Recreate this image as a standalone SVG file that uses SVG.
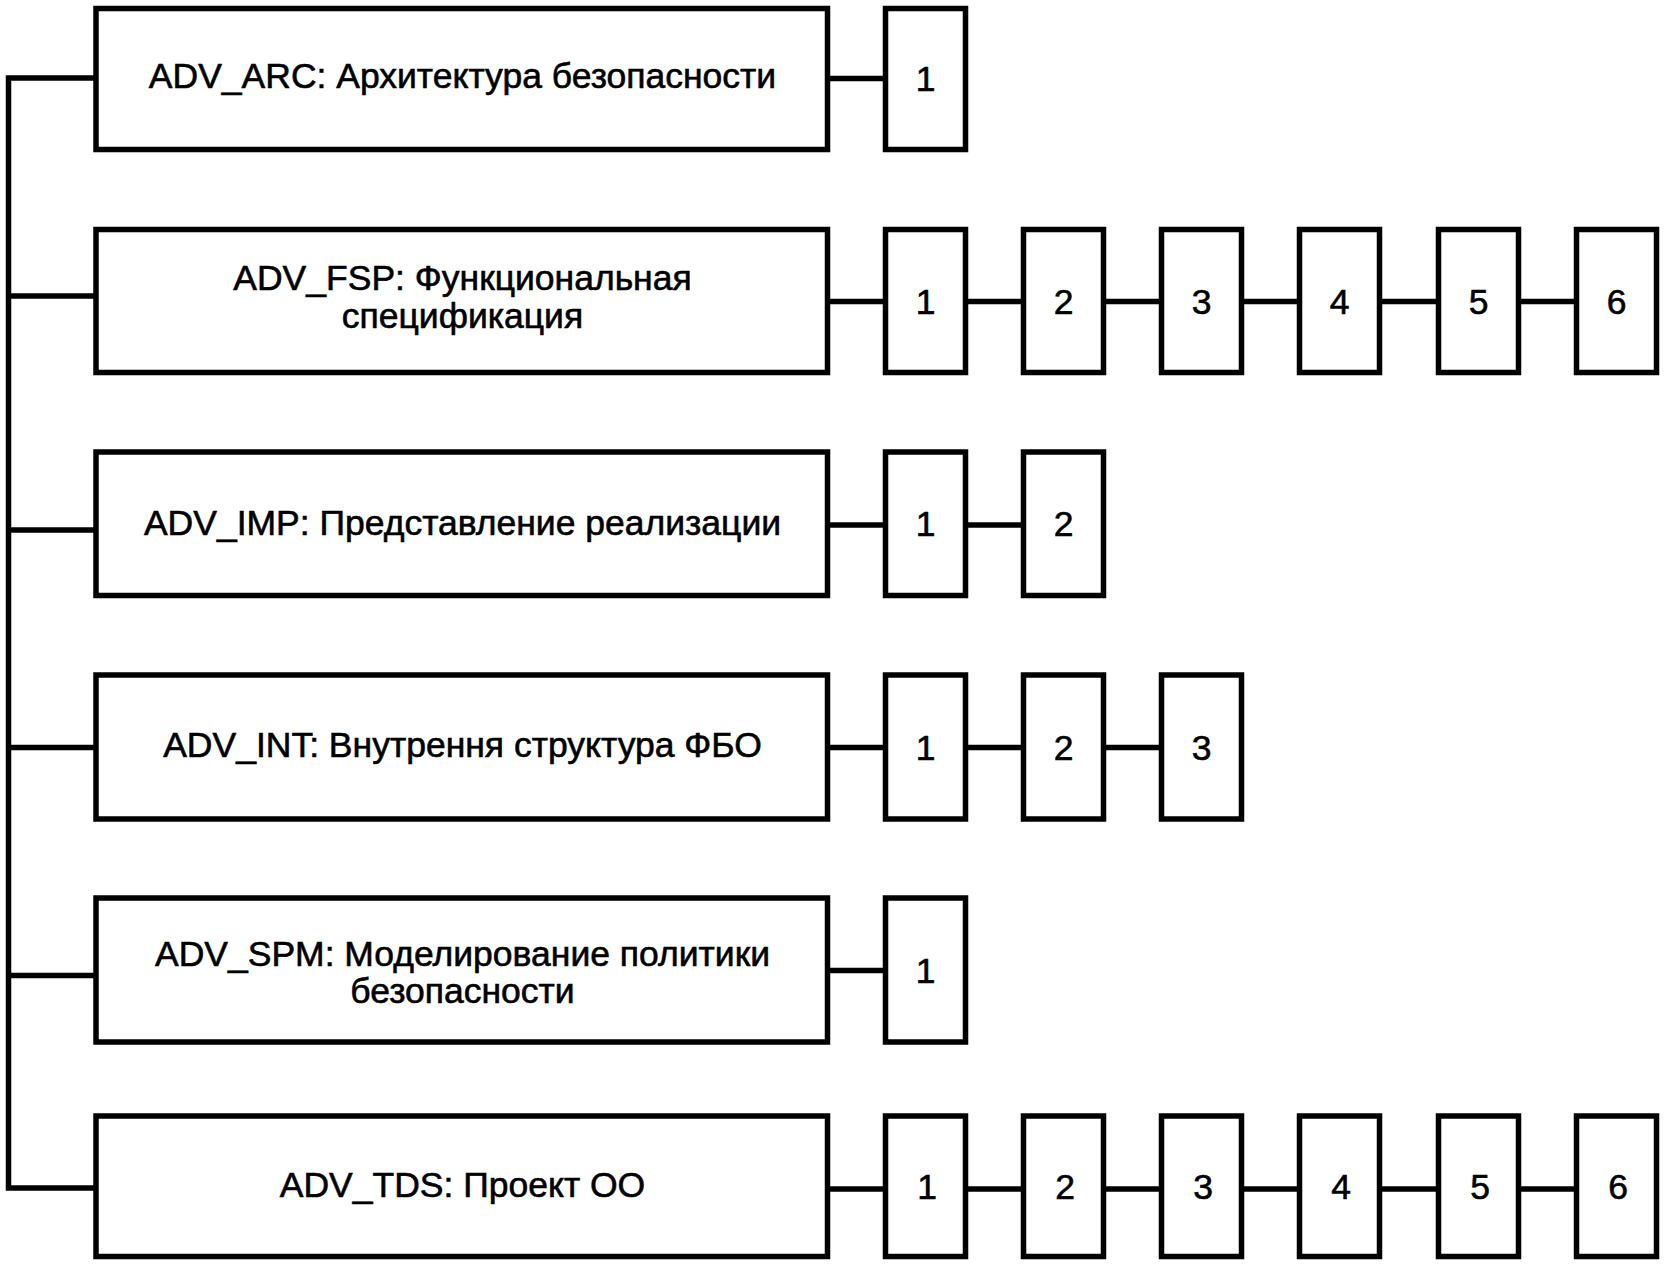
<svg xmlns="http://www.w3.org/2000/svg" width="1665" height="1265" viewBox="0 0 1665 1265">
<style>
.box{fill:#fff;stroke:#000;stroke-width:5.5}
.conn{fill:none;stroke:#000;stroke-width:5.5;stroke-linejoin:miter;stroke-linecap:butt}
.lbl{font-family:"Liberation Sans",Arial,sans-serif;font-size:35.5px;text-anchor:middle;fill:#000;stroke:#000;stroke-width:0.6}
</style>
<rect width="1665" height="1265" fill="#fff"/>
<g id="connectors">
<path class="conn" d="M96,78 H8.5 V1188 H96"/>
<path class="conn" d="M8.5,296 H96 M8.5,530 H96 M8.5,747.5 H96 M8.5,975.5 H96"/>
<path class="conn" d="M827.5,78.5 H885.5"/>
<path class="conn" d="M827.5,301.5 H885.5 M965.5,301.5 H1023.5 M1103.5,301.5 H1161.5 M1241.5,301.5 H1299.5 M1379.5,301.5 H1438.5 M1518.5,301.5 H1576.5"/>
<path class="conn" d="M827.5,525 H885.5 M965.5,525 H1023.5"/>
<path class="conn" d="M827.5,747.5 H885.5 M965.5,747.5 H1023.5 M1103.5,747.5 H1161.5"/>
<path class="conn" d="M827.5,970.5 H885.5"/>
<path class="conn" d="M827.5,1189 H885.5 M965.5,1189 H1023.5 M1103.5,1189 H1161.5 M1241.5,1189 H1299.5 M1379.5,1189 H1438.5 M1518.5,1189 H1576.5"/>
</g>
<g id="adv_arc"><rect class="box" x="96" y="8.5" width="731.5" height="141"/><text class="lbl" x="462.5" y="87.5">ADV_ARC: Архитектура безопасности</text></g>
<g id="adv_arc_1"><rect class="box" x="885.5" y="8.5" width="80" height="141"/><text class="lbl" x="925.5" y="91">1</text></g>

<g id="adv_fsp"><rect class="box" x="96" y="229.5" width="731.5" height="143"/><text class="lbl" x="462.5" y="290">ADV_FSP: Функциональная</text><text class="lbl" x="462.5" y="328">спецификация</text></g>
<g id="adv_fsp_1"><rect class="box" x="885.5" y="229.5" width="80" height="143"/><text class="lbl" x="925.5" y="313.5">1</text></g>
<g id="adv_fsp_2"><rect class="box" x="1023.5" y="229.5" width="80" height="143"/><text class="lbl" x="1063.5" y="313.5">2</text></g>
<g id="adv_fsp_3"><rect class="box" x="1161.5" y="229.5" width="80" height="143"/><text class="lbl" x="1201.5" y="313.5">3</text></g>
<g id="adv_fsp_4"><rect class="box" x="1299.5" y="229.5" width="80" height="143"/><text class="lbl" x="1339.5" y="313.5">4</text></g>
<g id="adv_fsp_5"><rect class="box" x="1438.5" y="229.5" width="80" height="143"/><text class="lbl" x="1478.5" y="313.5">5</text></g>
<g id="adv_fsp_6"><rect class="box" x="1576.5" y="229.5" width="80" height="143"/><text class="lbl" x="1616.5" y="313.5">6</text></g>

<g id="adv_imp"><rect class="box" x="96" y="452" width="731.5" height="143.5"/><text class="lbl" x="462.5" y="535">ADV_IMP: Представление реализации</text></g>
<g id="adv_imp_1"><rect class="box" x="885.5" y="452" width="80" height="143.5"/><text class="lbl" x="925.5" y="536">1</text></g>
<g id="adv_imp_2"><rect class="box" x="1023.5" y="452" width="80" height="143.5"/><text class="lbl" x="1063.5" y="536">2</text></g>

<g id="adv_int"><rect class="box" x="96" y="675" width="731.5" height="144"/><text class="lbl" x="462.5" y="757">ADV_INT: Внутрення структура ФБО</text></g>
<g id="adv_int_1"><rect class="box" x="885.5" y="675" width="80" height="144"/><text class="lbl" x="925.5" y="759.5">1</text></g>
<g id="adv_int_2"><rect class="box" x="1023.5" y="675" width="80" height="144"/><text class="lbl" x="1063.5" y="759.5">2</text></g>
<g id="adv_int_3"><rect class="box" x="1161.5" y="675" width="80" height="144"/><text class="lbl" x="1201.5" y="759.5">3</text></g>

<g id="adv_spm"><rect class="box" x="96" y="898" width="731.5" height="144"/><text class="lbl" x="462.5" y="965.5">ADV_SPM: Моделирование политики</text><text class="lbl" x="462.5" y="1003">безопасности</text></g>
<g id="adv_spm_1"><rect class="box" x="885.5" y="898" width="80" height="144"/><text class="lbl" x="925.5" y="982.5">1</text></g>

<g id="adv_tds"><rect class="box" x="96" y="1116" width="731.5" height="140.5"/><text class="lbl" x="462.5" y="1197">ADV_TDS: Проект ОО</text></g>
<g id="adv_tds_1"><rect class="box" x="885.5" y="1116" width="80" height="140.5"/><text class="lbl" x="927" y="1199">1</text></g>
<g id="adv_tds_2"><rect class="box" x="1023.5" y="1116" width="80" height="140.5"/><text class="lbl" x="1065" y="1199">2</text></g>
<g id="adv_tds_3"><rect class="box" x="1161.5" y="1116" width="80" height="140.5"/><text class="lbl" x="1203" y="1199">3</text></g>
<g id="adv_tds_4"><rect class="box" x="1299.5" y="1116" width="80" height="140.5"/><text class="lbl" x="1341" y="1199">4</text></g>
<g id="adv_tds_5"><rect class="box" x="1438.5" y="1116" width="80" height="140.5"/><text class="lbl" x="1480" y="1199">5</text></g>
<g id="adv_tds_6"><rect class="box" x="1576.5" y="1116" width="80" height="140.5"/><text class="lbl" x="1618" y="1199">6</text></g>
</svg>
